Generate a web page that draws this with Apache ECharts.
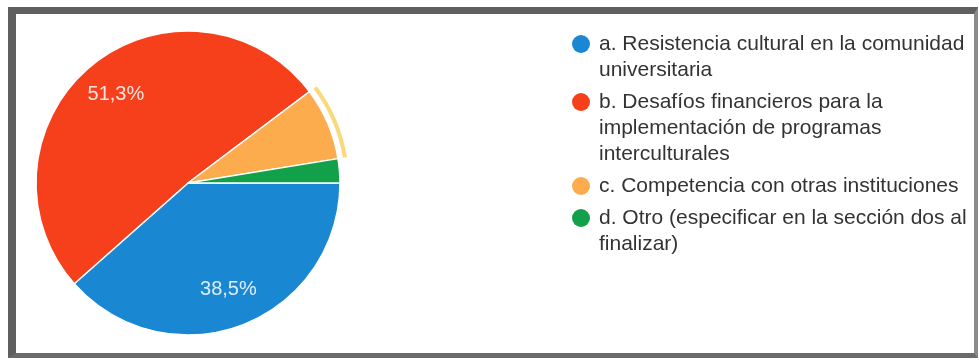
<!DOCTYPE html>
<html><head><meta charset="utf-8">
<script src="https://cdn.jsdelivr.net/npm/echarts@6/dist/echarts.min.js"></script>
<style>
html,body{margin:0;padding:0;background:#fff;}
#wrap{position:relative;width:979px;height:360px;overflow:hidden;background:#fff;}
#chart{position:absolute;left:0;top:0;width:979px;height:360px;}
#frame{position:absolute;left:8px;top:7px;width:970px;height:351px;box-sizing:border-box;border-style:solid;border-color:#5f5f5f #8a8a8a #6a6a6a #5f5f5f;border-width:7px 4px 5px 8px;pointer-events:none;}
</style></head>
<body><div id="wrap"><div id="chart"></div><div id="frame"></div></div>
<script>
// Categories (legend text, wrapped as in the reference)
const categories = [
  'a. Resistencia cultural en la comunidad\nuniversitaria',
  'b. Desafíos financieros para la\nimplementación de programas\ninterculturales',
  'c. Competencia con otras instituciones',
  'd. Otro (especificar en la sección dos al\nfinalizar)'
];
// Responses per category (39 total)
const counts = [15, 20, 3, 1];
const colors = ['#1a87d2', '#f6401c', '#fcab4d', '#13a04a'];
const highlighted = [false, false, true, false];

const total = counts.reduce((s, v) => s + v, 0);
const fmtPct = v => (v / total * 100).toFixed(1).replace('.', ',') + '%';

const center = [188, 183];
const R = 152;

const rich = {
  t: { fontFamily: 'Liberation Sans, Arial, sans-serif', fontSize: 21, color: '#333', lineHeight: 26, padding: [0, 0, 0, 9] },
  ind: { width: 18, lineHeight: 26 }
};
colors.forEach((c, i) => {
  rich['d' + i] = { width: 18, height: 18, borderRadius: 9, backgroundColor: c, lineHeight: 26 };
});

const chart = echarts.init(document.getElementById('chart'), null, { renderer: 'canvas' });
chart.setOption({
  animation: false,
  color: colors,
  legend: {
    orient: 'vertical',
    left: 562,
    top: 26,
    icon: 'none',
    itemWidth: 0,
    itemHeight: 18,
    itemGap: 6,
    selectedMode: false,
    data: categories,
    formatter: function (name) {
      const i = categories.indexOf(name);
      const lines = name.split('\n');
      let s = '{d' + i + '| }{t|' + lines[0] + '}';
      for (let k = 1; k < lines.length; k++) s += '\n{ind| }{t|' + lines[k] + '}';
      return s;
    },
    textStyle: { rich: rich, fontSize: 21, lineHeight: 26 }
  },
  series: [
    {
      type: 'pie',
      center: center,
      radius: [0, R],
      startAngle: 0,
      clockwise: true,
      silent: true,
      label: { show: false },
      labelLine: { show: false },
      itemStyle: { borderColor: '#fff', borderWidth: 1.5 },
      data: categories.map((n, i) => ({ name: n, value: counts[i], itemStyle: { color: colors[i] } }))
    },
    {
      // selection ring drawn around the highlighted slice
      type: 'pie',
      center: center,
      radius: [157, 161],
      startAngle: 0,
      clockwise: true,
      silent: true,
      legendHoverLink: false,
      label: { show: false },
      labelLine: { show: false },
      data: categories.map((n, i) => ({
        name: n + ' ',
        value: counts[i],
        itemStyle: { color: highlighted[i] ? 'rgba(245,205,80,0.75)' : 'rgba(0,0,0,0)' }
      }))
    },
    {
      // percentage labels
      type: 'pie',
      center: center,
      radius: [70, R],
      startAngle: 0,
      clockwise: true,
      silent: true,
      legendHoverLink: false,
      labelLine: { show: false },
      label: {
        show: true,
        position: 'inside',
        fontFamily: 'Liberation Sans, Arial, sans-serif',
        fontSize: 20,
        color: 'rgba(255,255,255,0.85)',
        formatter: p => (p.value / total >= 0.1 ? fmtPct(p.value) : '')
      },
      itemStyle: { color: 'rgba(0,0,0,0)' },
      data: categories.map((n, i) => ({ name: n + '  ', value: counts[i] }))
    }
  ]
});
</script>
</body></html>
